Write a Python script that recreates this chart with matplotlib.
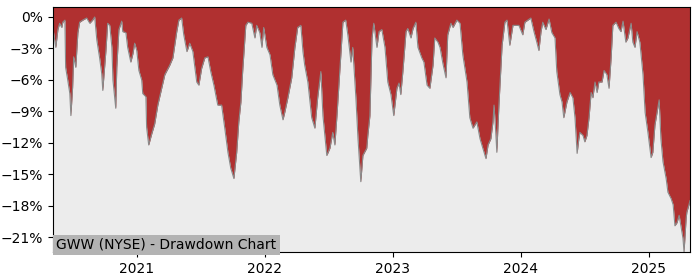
import matplotlib
matplotlib.use('Agg')
import matplotlib.pyplot as plt
import matplotlib.dates as mdates
from matplotlib.ticker import PercentFormatter, MultipleLocator
import pandas as pd

TITLE = 'GWW (NYSE) - Drawdown Chart'

dates = [
    '2020-05-07', '2020-05-15', '2020-05-21', '2020-05-26', '2020-06-01', '2020-06-04', '2020-06-10',
    '2020-06-12', '2020-06-18', '2020-06-24', '2020-06-27', '2020-07-02', '2020-07-05', '2020-07-11',
    '2020-07-17', '2020-07-22', '2020-07-31', '2020-08-11', '2020-08-20', '2020-08-28', '2020-09-03',
    '2020-09-09', '2020-09-17', '2020-09-23', '2020-09-26', '2020-10-05', '2020-10-10', '2020-10-16',
    '2020-10-22', '2020-10-25', '2020-11-02', '2020-11-05', '2020-11-11', '2020-11-19', '2020-11-22',
    '2020-12-01', '2020-12-06', '2020-12-15', '2020-12-21', '2020-12-26', '2021-01-01', '2021-01-07',
    '2021-01-15', '2021-01-18', '2021-01-27', '2021-01-29', '2021-02-04', '2021-02-13', '2021-02-21',
    '2021-03-02', '2021-03-13', '2021-03-22', '2021-04-05', '2021-04-14', '2021-04-25', '2021-05-01',
    '2021-05-09', '2021-05-15', '2021-05-24', '2021-06-01', '2021-06-10', '2021-06-21', '2021-06-27',
    '2021-07-05', '2021-07-14', '2021-07-23', '2021-07-31', '2021-08-09', '2021-08-20', '2021-08-31',
    '2021-09-09', '2021-09-18', '2021-09-26', '2021-10-05', '2021-10-13', '2021-10-19', '2021-10-25',
    '2021-10-30', '2021-11-08', '2021-11-14', '2021-11-25', '2021-12-04', '2021-12-09', '2021-12-18',
    '2021-12-24', '2021-12-29', '2022-01-07', '2022-01-16', '2022-01-24', '2022-02-05', '2022-02-13',
    '2022-02-22', '2022-02-27', '2022-03-08', '2022-03-19', '2022-03-28', '2022-04-05', '2022-04-14',
    '2022-04-20', '2022-04-25', '2022-05-04', '2022-05-15', '2022-05-24', '2022-06-01', '2022-06-10',
    '2022-06-16', '2022-06-27', '2022-07-06', '2022-07-14', '2022-07-20', '2022-07-26', '2022-08-03',
    '2022-08-12', '2022-08-20', '2022-08-26', '2022-09-04', '2022-09-09', '2022-09-18', '2022-09-24',
    '2022-10-02', '2022-10-08', '2022-10-19', '2022-10-22', '2022-10-28', '2022-11-03', '2022-11-08',
    '2022-11-17', '2022-11-23', '2022-12-01', '2022-12-10', '2022-12-18', '2022-12-27', '2023-01-04',
    '2023-01-13', '2023-01-19', '2023-01-24', '2023-01-30', '2023-02-08', '2023-02-13', '2023-02-22',
    '2023-02-28', '2023-03-08', '2023-03-14', '2023-03-25', '2023-03-31', '2023-04-09', '2023-04-17',
    '2023-04-26', '2023-05-01', '2023-05-10', '2023-05-16', '2023-05-24', '2023-06-02', '2023-06-07',
    '2023-06-16', '2023-06-22', '2023-07-03', '2023-07-12', '2023-07-20', '2023-08-01', '2023-08-09',
    '2023-08-18', '2023-08-29', '2023-09-07', '2023-09-15', '2023-09-24', '2023-09-30', '2023-10-08',
    '2023-10-14', '2023-10-17', '2023-10-22', '2023-10-25', '2023-10-31', '2023-11-09', '2023-11-17',
    '2023-11-23', '2023-12-01', '2023-12-10', '2023-12-21', '2023-12-27', '2024-01-07', '2024-01-13',
    '2024-01-30', '2024-02-08', '2024-02-16', '2024-02-22', '2024-02-28', '2024-03-04', '2024-03-13',
    '2024-03-22', '2024-03-30', '2024-04-08', '2024-04-13', '2024-04-22', '2024-04-28', '2024-05-03',
    '2024-05-12', '2024-05-21', '2024-05-29', '2024-06-04', '2024-06-10', '2024-06-15', '2024-06-18',
    '2024-06-27', '2024-07-02', '2024-07-08', '2024-07-14', '2024-07-20', '2024-07-25', '2024-07-31',
    '2024-08-06', '2024-08-11', '2024-08-20', '2024-08-26', '2024-09-03', '2024-09-09', '2024-09-15',
    '2024-09-20', '2024-09-29', '2024-10-07', '2024-10-13', '2024-10-19', '2024-10-27', '2024-11-02',
    '2024-11-11', '2024-11-16', '2024-11-22', '2024-11-28', '2024-12-06', '2024-12-15', '2024-12-21',
    '2024-12-29', '2025-01-07', '2025-01-12', '2025-01-18', '2025-01-24', '2025-01-30', '2025-02-04',
    '2025-02-10', '2025-02-19', '2025-02-24', '2025-03-05', '2025-03-11', '2025-03-16', '2025-03-22',
    '2025-03-28', '2025-04-02', '2025-04-08', '2025-04-11', '2025-04-17', '2025-04-19', '2025-04-25',
    '2025-04-28',
]

drawdown = [
    -1.1, -2.9, -1.2, -0.6, -1.0, -0.5, -0.3,
    -4.8, -6.0, -7.3, -9.4, -6.7, -3.8, -4.8,
    -1.5, -0.5, -0.3, -0.1, -0.6, -0.3, 0.0,
    -2.2, -3.9, -5.4, -7.0, -3.2, -0.6, -0.8,
    -2.9, -6.0, -8.7, -4.8, -1.2, -0.4, -1.4,
    -1.5, -2.9, -4.3, -3.5, -2.5, -3.2, -5.1,
    -6.0, -7.3, -7.6, -10.5, -12.2, -11.1, -10.2,
    -8.4, -6.8, -5.5, -4.6, -3.9, -1.4, -0.3,
    -0.1, -1.7, -3.3, -2.5, -3.3, -6.2, -6.5,
    -4.9, -3.9, -3.8, -5.2, -6.5, -8.4, -8.4,
    -10.6, -12.9, -14.4, -15.4, -12.9, -10.0, -8.1,
    -5.2, -0.8, -0.5, -0.6, -2.0, -0.8, -1.5,
    -2.9, -1.0, -2.9, -3.6, -5.5, -6.5, -8.4,
    -9.8, -9.1, -7.7, -5.8, -2.9, -1.0, -0.8,
    -3.3, -4.6, -6.2, -9.6, -10.6, -7.7, -5.2,
    -9.4, -13.2, -12.5, -11.0, -12.2, -9.4, -5.2,
    -0.5, -0.3, -1.7, -4.3, -2.9, -7.7, -11.6,
    -15.7, -13.2, -12.5, -11.3, -9.4, -2.0, -0.6,
    -2.9, -1.4, -1.2, -2.9, -6.2, -7.4, -9.4,
    -6.8, -6.3, -7.4, -5.2, -1.4, -1.1, -2.0,
    -1.1, -0.5, -2.9, -3.9, -4.3, -6.5, -6.8,
    -4.6, -2.0, -2.4, -2.9, -4.4, -5.8, -1.7,
    -0.6, -1.0, -0.3, -0.6, -3.6, -6.2, -9.6,
    -10.6, -10.0, -11.6, -12.5, -13.5, -12.2, -11.6,
    -10.0, -8.4, -11.0, -12.9, -8.4, -2.7, -0.5,
    -0.3, -2.7, -0.8, -0.8, -0.8, -1.7, -0.5,
    -0.1, -1.4, -2.4, -3.2, -1.4, -0.5, -1.2,
    -0.2, -1.5, -2.0, -5.2, -7.4, -8.1, -9.6,
    -8.1, -7.2, -7.7, -9.6, -13.0, -11.6, -11.0,
    -11.3, -11.9, -11.3, -9.6, -7.2, -7.7, -6.2,
    -7.2, -6.2, -6.2, -5.1, -5.5, -6.8, -3.9,
    -0.8, -0.5, -1.1, -1.4, -0.4, -2.4, -2.0,
    -0.6, -2.4, -2.9, -1.4, -2.4, -5.5, -9.1,
    -11.0, -13.4, -12.9, -10.3, -9.1, -7.9, -11.6,
    -13.8, -15.4, -16.7, -17.3, -17.9, -19.9, -19.6,
    -18.9, -19.9, -21.1, -22.4, -19.2, -18.6, -17.9,
    -17.5,
]

x = pd.to_datetime(dates)
low = min(drawdown)

fig = plt.figure(figsize=(7, 2.8), dpi=100)
ax = fig.add_axes([0.0757, 0.1, 0.91, 0.875])
ax.set_facecolor('#b03030')
ax.fill_between(x, drawdown, low, color='#ececec', lw=0)
ax.plot(x, drawdown, color='#8a8a8a', lw=0.8)

ax.set_xlim(x[0], x[-1])
ax.set_ylim(low, 0.95)
ax.yaxis.set_major_locator(MultipleLocator(3))
ax.yaxis.set_major_formatter(PercentFormatter(decimals=0))
ax.xaxis.set_major_locator(mdates.YearLocator())
ax.xaxis.set_major_formatter(mdates.DateFormatter('%Y'))
ax.tick_params(labelsize=10)

ax.text(0.005, 0.0, TITLE, transform=ax.transAxes, ha='left', va='bottom', fontsize=10,
        bbox=dict(facecolor='#b3b3b3', edgecolor='none', pad=2.5), zorder=5)

plt.savefig('out.png', dpi=100)
